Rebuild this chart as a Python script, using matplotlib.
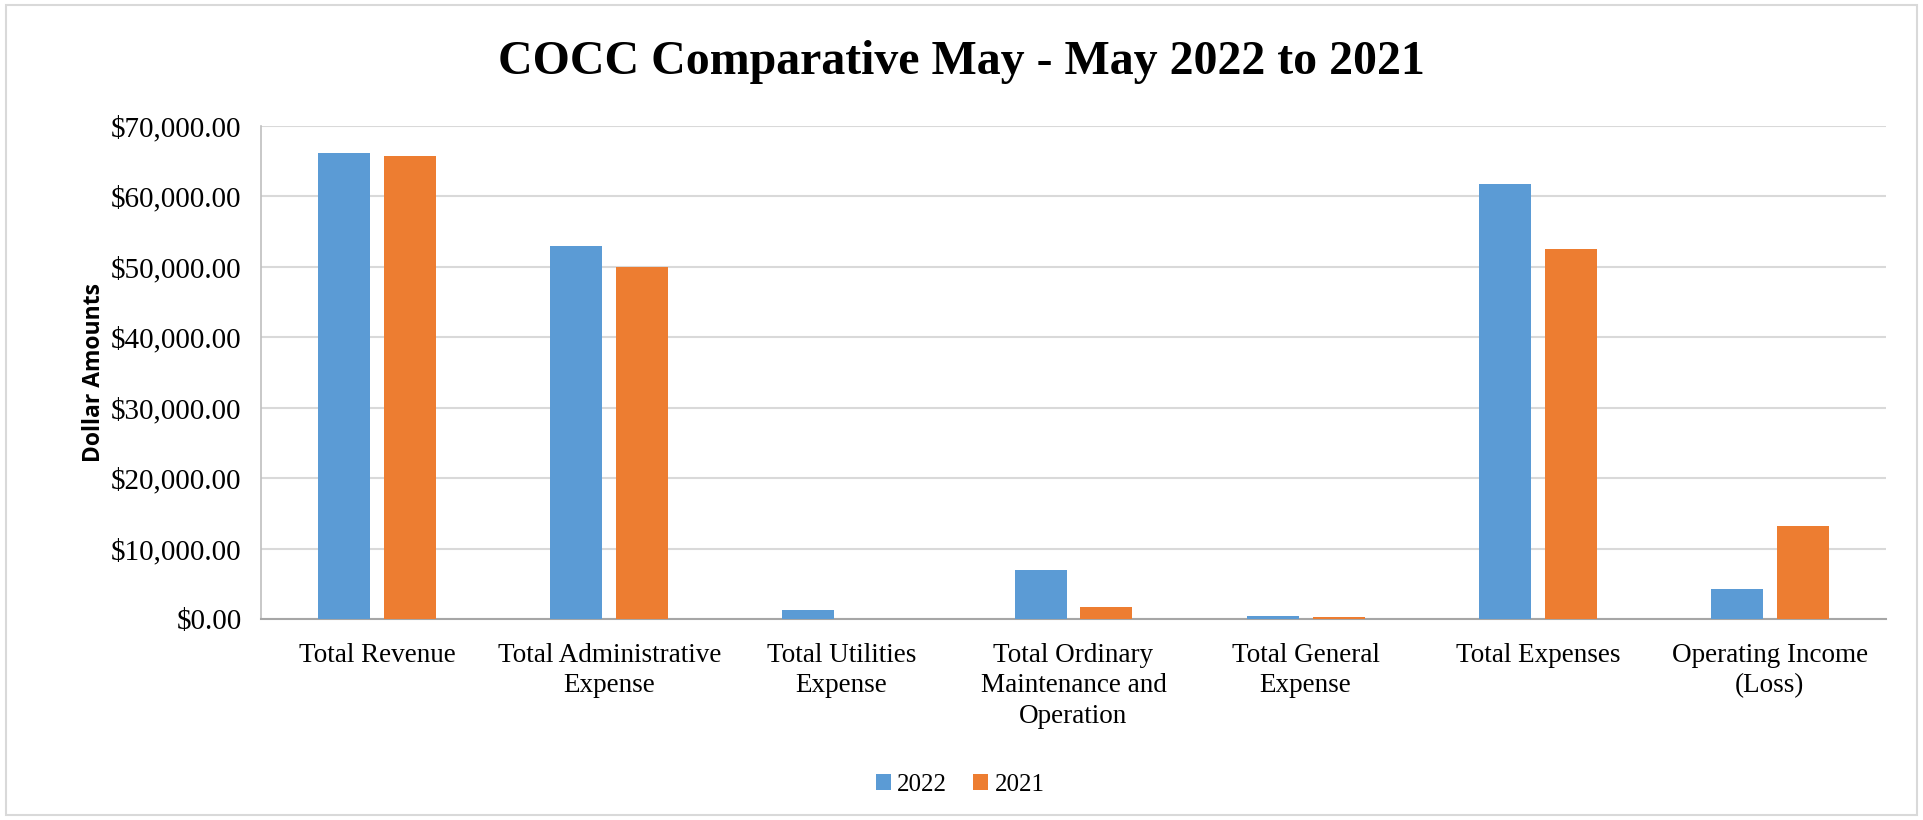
import numpy as np
import matplotlib
matplotlib.use("Agg")
import matplotlib.pyplot as plt
from matplotlib.ticker import FuncFormatter, MultipleLocator
from matplotlib.patches import Rectangle

# ----------------------
# Datos
# ----------------------
categories = ["Total Revenue", "Total Administrative\nExpense", "Total Utilities\nExpense",
              "Total Ordinary\nMaintenance and\nOperation", "Total General\nExpense",
              "Total Expenses", "Operating Income\n(Loss)"]
values_2022 = [66100, 53000, 1330, 6900, 420, 61800, 4200]
values_2021 = [65800, 50000, 0, 1650, 320, 52500, 13250]
series_labels = ["2022", "2021"]

blue = "#5B9BD5"
orange = "#ED7D31"
serif = ["Liberation Serif", "DejaVu Serif"]

fig = plt.figure(figsize=(19.23, 8.2001), dpi=100)
ax = fig.add_axes([261 / 1923, 1 - 619 / 820, (1886 - 261) / 1923, (619 - 126) / 820])

x = np.arange(len(categories))
w = 0.224
off = 0.142
ax.bar(x - off, values_2022, w, color=blue, label=series_labels[0], zorder=3)
ax.bar(x + off, values_2021, w, color=orange, label=series_labels[1], zorder=3)

ax.set_xlim(-0.5, len(categories) - 0.5)
ax.set_ylim(0, 70000)
ax.yaxis.set_major_locator(MultipleLocator(10000))
ax.yaxis.set_major_formatter(FuncFormatter(lambda v, p: f"${v:,.2f}"))
ax.grid(axis="y", color="#D9D9D9", linewidth=1.5, zorder=0)

ax.set_xticks(x)
ax.set_xticklabels(categories, fontfamily=serif, fontsize=19.5, linespacing=1.3)
for lab in ax.get_yticklabels():
    lab.set_fontfamily(serif)
    lab.set_fontsize(21)
ax.tick_params(axis="both", length=0)
ax.tick_params(axis="y", pad=14)
ax.tick_params(axis="x", pad=17)

for s in ["top", "right"]:
    ax.spines[s].set_visible(False)
ax.spines["bottom"].set_color("#A6A6A6")
ax.spines["bottom"].set_linewidth(1.5)
ax.spines["left"].set_color("#BFBFBF")
ax.spines["left"].set_linewidth(1.2)

ax.set_ylabel("Dollar Amounts", fontsize=16.5, fontweight="bold", fontfamily="Open Sans")
ax.yaxis.set_label_coords((106 - 261) / (1886 - 261), 0.5)

fig.text(0.5, 1 - 62 / 820, "COCC Comparative May - May 2022 to 2021", ha="center", va="center",
         fontsize=34.5, fontweight="bold", fontfamily=serif)

leg = fig.legend(loc="center", bbox_to_anchor=(960 / 1923, 1 - 785 / 820), ncol=2, frameon=False,
                 prop={"family": serif, "size": 18}, handlelength=0.6, handleheight=0.6,
                 handletextpad=0.25, columnspacing=1.05)

# Borde del gráfico
fig.patches.append(Rectangle((6 / 1923, 5 / 820), 1911 / 1923, 810 / 820, transform=fig.transFigure,
                             fill=False, edgecolor="#D9D9D9", linewidth=1.5))

fig.savefig("out.png", dpi=100, facecolor="white")
